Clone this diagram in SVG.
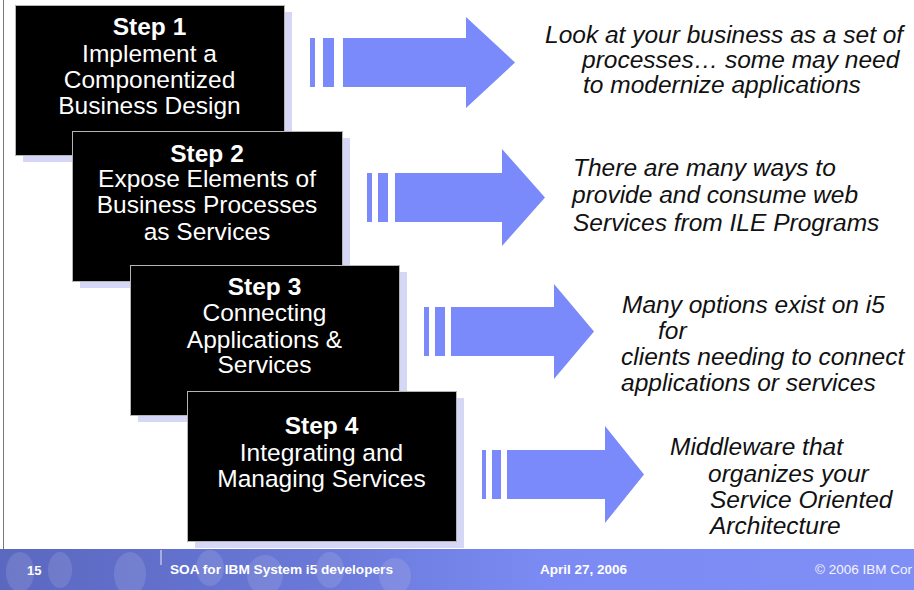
<svg xmlns="http://www.w3.org/2000/svg" width="914" height="590" viewBox="0 0 914 590">
<defs>
<style>
.box{fill:#000;stroke:#b4b4b4;stroke-width:1}
.shadow{fill:#d6d6f6}
.bt{font-family:"Liberation Sans",Arial,sans-serif;font-size:24.5px;fill:#fff;text-anchor:middle}
.bt .h{font-weight:bold}
.dt{font-family:"Liberation Sans",Arial,sans-serif;font-size:24.5px;font-style:italic;fill:#111}
.arr{fill:#7a8afa}
.ft{font-family:"Liberation Sans",Arial,sans-serif;font-size:13px;font-weight:bold;fill:#fff}
.fc{font-family:"Liberation Sans",Arial,sans-serif;font-size:13.5px;font-weight:normal;fill:#f4f4ff}
</style>
<linearGradient id="fg" x1="0" y1="0" x2="1" y2="0">
<stop offset="0" stop-color="#5a68c0"/>
<stop offset="0.35" stop-color="#6a78d8"/>
<stop offset="0.6" stop-color="#7b8bf3"/>
<stop offset="1" stop-color="#7f8ff6"/>
</linearGradient>
</defs>
<rect x="0" y="0" width="914" height="590" fill="#fff"/>
<line x1="3.5" y1="0" x2="3.5" y2="590" stroke="#777" stroke-width="1"/>

<g id="footer">
<rect x="0" y="549" width="914" height="41" fill="url(#fg)"/>
<g fill="#c8cce8" opacity="0.18">
<ellipse cx="20" cy="572" rx="14" ry="20"/>
<ellipse cx="60" cy="570" rx="12" ry="18"/>
<ellipse cx="130" cy="574" rx="16" ry="22"/>
<ellipse cx="210" cy="568" rx="14" ry="18"/>
<ellipse cx="265" cy="575" rx="18" ry="20"/>
<ellipse cx="330" cy="570" rx="14" ry="18"/>
<ellipse cx="395" cy="576" rx="16" ry="18"/>
</g>
<line x1="161" y1="550" x2="161" y2="565" stroke="#e8eaff" stroke-width="1"/>
<text class="ft" x="27" y="575">15</text>
<text class="ft" x="170" y="574" textLength="223" lengthAdjust="spacingAndGlyphs">SOA for IBM System i5 developers</text>
<text class="ft" x="540" y="574" textLength="87" lengthAdjust="spacingAndGlyphs">April 27, 2006</text>
<text class="fc" x="815" y="574">© 2006 IBM Cor</text>
</g>

<g id="connectors">
<g id="arrow1" class="arr">
<rect x="310" y="38" width="5" height="49"/>
<rect x="323" y="38" width="11" height="49"/>
<polygon points="343,38 466,38 466,17 515,62.5 466,108 466,87 343,87"/>
</g>
<g id="arrow2" class="arr">
<rect x="367" y="173" width="5" height="49"/>
<rect x="378" y="173" width="10" height="49"/>
<polygon points="395,173 502,173 502,149 545,197.5 502,246 502,222 395,222"/>
</g>
<g id="arrow3" class="arr">
<rect x="424" y="307" width="5" height="49"/>
<rect x="435" y="307" width="10" height="49"/>
<polygon points="451,307 554,307 554,284 594,331.5 554,379 554,356 451,356"/>
</g>
<g id="arrow4" class="arr">
<rect x="482" y="450" width="4" height="49"/>
<rect x="492" y="450" width="9" height="49"/>
<polygon points="507,450 605,450 605,426 644,474.5 605,523 605,499 507,499"/>
</g>
</g>

<g id="step1">
<rect class="shadow" x="23" y="12" width="269" height="150"/>
<rect class="box" x="15.5" y="5.5" width="269" height="150"/>
<text class="bt" x="149.5" y="35"><tspan class="h">Step 1</tspan><tspan x="149.5" y="61.5">Implement a</tspan><tspan x="149.5" y="87.5">Componentized</tspan><tspan x="149.5" y="113.5">Business Design</tspan></text>
</g>

<g id="step2">
<rect class="shadow" x="80" y="138" width="270" height="150"/>
<rect class="box" x="72.5" y="131.5" width="270" height="150"/>
<text class="bt" x="207" y="161.5"><tspan class="h">Step 2</tspan><tspan x="207" y="187">Expose Elements of</tspan><tspan x="207" y="213">Business Processes</tspan><tspan x="207" y="239.5">as Services</tspan></text>
</g>

<g id="step3">
<rect class="shadow" x="138" y="272" width="269" height="150"/>
<rect class="box" x="130.5" y="265.5" width="269" height="150"/>
<text class="bt" x="264.5" y="295"><tspan class="h">Step 3</tspan><tspan x="264.5" y="321">Connecting</tspan><tspan x="264.5" y="347.5">Applications &amp;</tspan><tspan x="264.5" y="373">Services</tspan></text>
</g>

<g id="step4">
<rect class="shadow" x="195" y="398" width="269" height="150"/>
<rect class="box" x="187.5" y="391.5" width="269" height="150"/>
<text class="bt" x="321.5" y="434"><tspan class="h">Step 4</tspan><tspan x="321.5" y="461">Integrating and</tspan><tspan x="321.5" y="487">Managing Services</tspan></text>
</g>

<g id="desc1">
<text class="dt" x="545" y="43">Look at your business as a set of</text>
<text class="dt" x="582" y="68">processes… some may need</text>
<text class="dt" x="583" y="93">to modernize applications</text>
</g>
<g id="desc2">
<text class="dt" x="573" y="176">There are many ways to</text>
<text class="dt" x="572" y="203">provide and consume web</text>
<text class="dt" x="573" y="231">Services from ILE Programs</text>
</g>
<g id="desc3">
<text class="dt" x="622" y="313">Many options exist on i5</text>
<text class="dt" x="658" y="339">for</text>
<text class="dt" x="621" y="365">clients needing to connect</text>
<text class="dt" x="621" y="391">applications or services</text>
</g>
<g id="desc4">
<text class="dt" x="670" y="455">Middleware that</text>
<text class="dt" x="708" y="482">organizes your</text>
<text class="dt" x="710" y="508">Service Oriented</text>
<text class="dt" x="710" y="534">Architecture</text>
</g>
</svg>
